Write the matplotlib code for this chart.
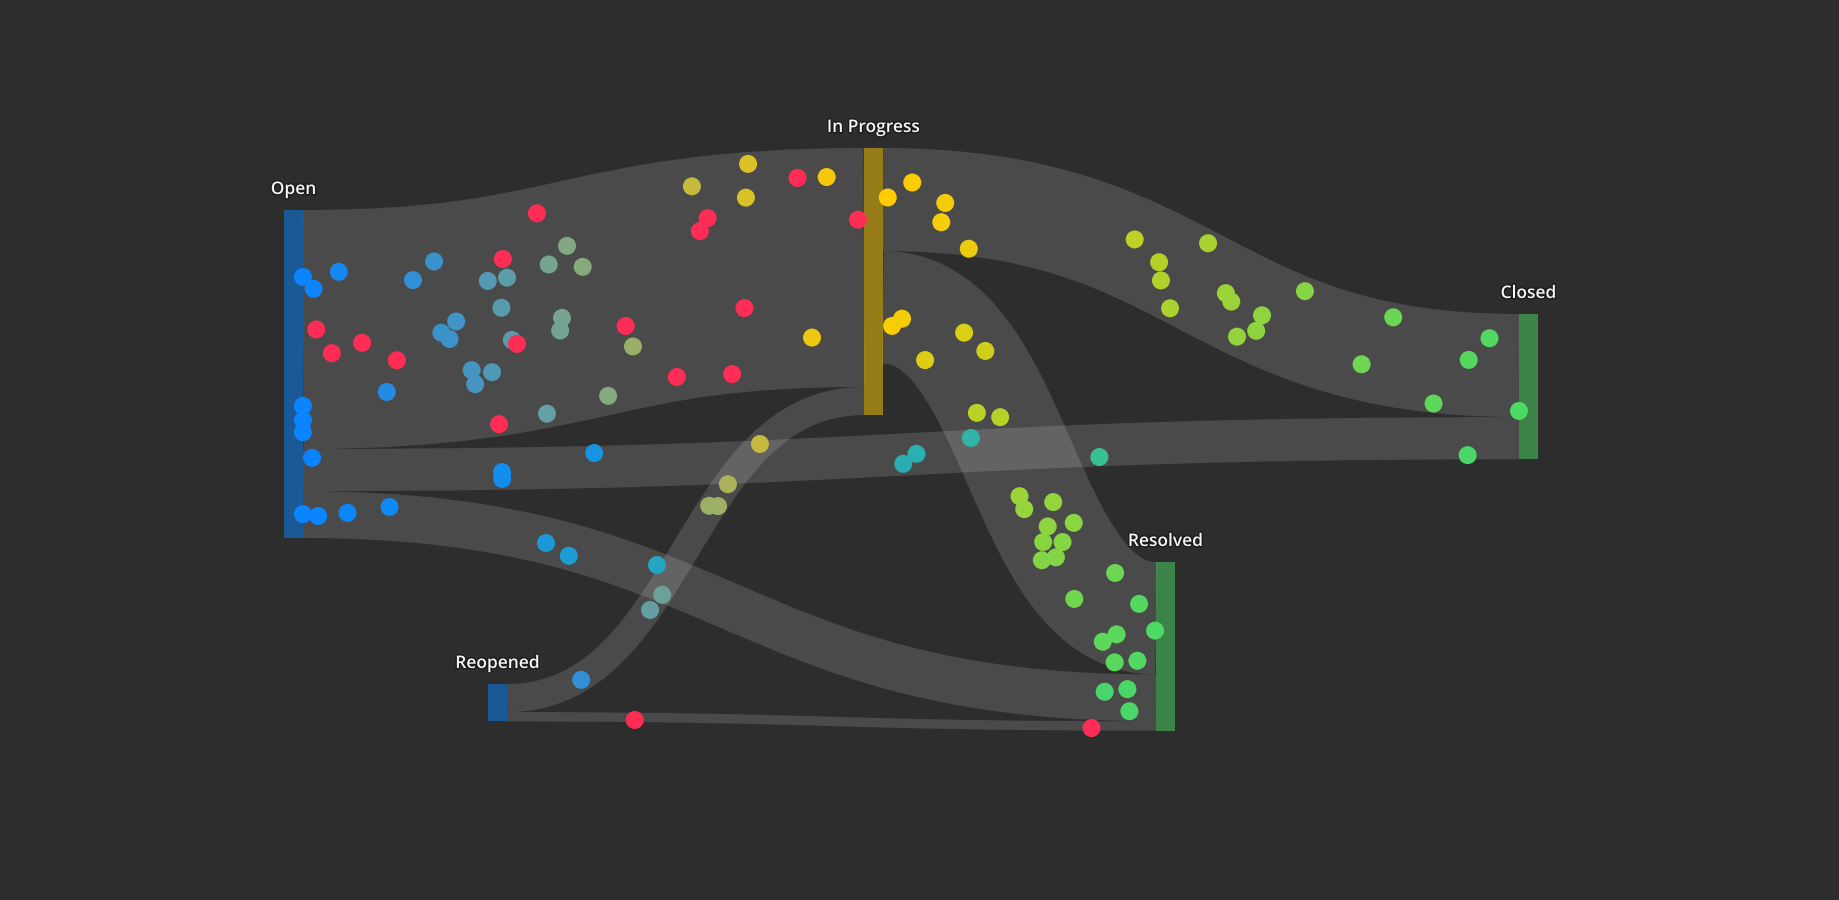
import matplotlib
matplotlib.use("Agg")
import matplotlib.pyplot as plt
from matplotlib.path import Path
from matplotlib.patches import PathPatch, Rectangle
import matplotlib.patheffects as pe
import numpy as np

# ---------------- data ----------------
node_names = ["Open", "In Progress", "Closed", "Resolved", "Reopened"]
node_colors = ["#0a84ff", "#ffcc00", "#4cd964", "#4cd964", "#0a84ff"]

link_source = [0, 0, 0, 1, 1, 4, 4]
link_target = [1, 2, 3, 2, 3, 1, 3]
link_value = [51, 9, 10, 22, 24, 6, 2]

HOT = "#ff2d55"

# particles: progress along the link (0..1) and lateral offset (fraction of band width)
# Open -> In Progress
open_ip_prog = [0.489, 0.438, 0.514, 0.197, 0.157, 0.046, 0.000, 0.013, 0.297, 0.339, 0.316,
                0.225, 0.197, 0.210, 0.326, 0.442, 0.432, 0.589, 0.242, 0.245, 0.278, 0.106,
                0.507, 0.369, 0.000, 0.000, 0.000, 0.761, 0.852, 0.845, 0.956, 0.931]
open_ip_off = [-0.23, -0.17, -0.13, -0.26, -0.19, -0.24, -0.22, -0.17, -0.15, -0.15, -0.03,
               0.00, 0.04, 0.07, 0.11, 0.06, 0.11, 0.24, 0.21, 0.27, 0.23, 0.27,
               0.42, 0.44, 0.32, 0.38, 0.43, -0.38, -0.45, -0.31, -0.38, 0.29]
open_ip_hot_prog = [0.436, 0.337, 0.016, 0.035, 0.075, 0.123, 0.335, 0.582, 0.277, 0.919,
                    0.781, 0.765, 0.993, 0.828, 0.676, 0.794]
open_ip_hot_off = [-0.39, -0.23, 0.00, 0.10, 0.06, 0.14, 0.13, 0.15, 0.45, -0.38,
                   -0.24, -0.19, -0.20, 0.15, 0.40, 0.42]
# Open -> Closed
open_closed_prog = [0.005, 0.123, 0.123, 0.192, 0.491, 0.506, 0.566, 0.696, 0.971]
open_closed_off = [-0.29, 0.08, 0.24, -0.33, 0.22, 0.00, -0.31, 0.28, 0.40]
# Open -> Resolved
open_resolved_prog = [0.000, 0.012, 0.036, 0.072, 0.238, 0.269, 0.383, 0.958, 0.977, 0.979]
open_resolved_off = [-0.01, 0.03, -0.05, -0.22, 0.05, 0.19, -0.22, -0.11, -0.18, 0.29]
# In Progress -> Closed
ip_closed_prog = [0.005, 0.031, 0.070, 0.067, 0.106, 0.357, 0.414, 0.432, 0.471, 0.478, 0.550,
                  0.566, 0.627, 0.629, 0.603, 0.681, 0.837, 0.806, 0.967, 0.944, 0.907, 1.000]
ip_closed_off = [-0.02, -0.17, 0.01, 0.20, 0.43, -0.09, 0.01, 0.16, 0.36, -0.37, -0.02,
                 0.03, 0.02, 0.18, 0.31, -0.36, -0.36, 0.15, -0.26, -0.04, 0.41, 0.44]
# In Progress -> Resolved
ip_resolved_prog = [0.029, 0.055, 0.192, 0.209, 0.268, 0.373, 0.402, 0.560, 0.587, 0.599, 0.639,
                    0.658, 0.663, 0.683, 0.694, 0.704, 0.800, 0.828, 0.949, 0.998, 0.900, 0.919,
                    0.933, 0.969]
ip_resolved_off = [0.16, 0.08, 0.29, -0.13, -0.18, 0.16, -0.01, 0.12, 0.13, -0.13, 0.01,
                   -0.21, 0.11, -0.04, 0.20, 0.08, 0.17, -0.25, -0.11, 0.11, 0.32, 0.21,
                   0.45, 0.39]
# Reopened -> In Progress
reopened_ip_prog = [0.159, 0.758, 0.652, 0.596, 0.605, 0.402, 0.364]
reopened_ip_off = [0.08, -0.04, 0.02, -0.10, 0.17, 0.14, 0.08]
# Reopened -> Resolved (hot)
reopened_resolved_hot_prog = [0.152, 0.929]
reopened_resolved_hot_off = [0.28, 0.23]

# ---------------- layout ----------------
BG = "#2d2d2d"
node_left = [284, 864, 1519, 1156, 488]
node_top = [210, 148, 314, 562, 684]
NODE_W = 19
PX_PER_UNIT = 328 / 70.0
PARTICLE_D = 18  # px

fig = plt.figure(figsize=(18.4, 9), dpi=100)
fig.patch.set_facecolor(BG)
ax = fig.add_axes([0, 0, 1, 1])
ax.set_facecolor(BG)
ax.set_xlim(0, 1840)
ax.set_ylim(900, 0)
ax.axis("off")

n_nodes = len(node_names)
n_links = len(link_value)
node_val = []
for n in range(n_nodes):
    vin = sum(v for s, t, v in zip(link_source, link_target, link_value) if t == n)
    vout = sum(v for s, t, v in zip(link_source, link_target, link_value) if s == n)
    node_val.append(max(vin, vout))

# stack link ends at nodes (ordered by the other node's vertical position)
src_y = [0.0] * n_links
tgt_y = [0.0] * n_links
for n in range(n_nodes):
    outs = sorted([i for i in range(n_links) if link_source[i] == n], key=lambda i: node_top[link_target[i]])
    y = node_top[n]
    for i in outs:
        w = link_value[i] * PX_PER_UNIT
        src_y[i] = y + w / 2
        y += w
    ins = sorted([i for i in range(n_links) if link_target[i] == n], key=lambda i: node_top[link_source[i]])
    y = node_top[n]
    for i in ins:
        w = link_value[i] * PX_PER_UNIT
        tgt_y[i] = y + w / 2
        y += w

geom = []
for i in range(n_links):
    x0 = node_left[link_source[i]] + NODE_W
    x1 = node_left[link_target[i]]
    y0, y1 = src_y[i], tgt_y[i]
    xm = (x0 + x1) / 2
    ctrl = np.array([[x0, y0], [xm, y0], [xm, y1], [x1, y1]])
    w = link_value[i] * PX_PER_UNIT
    geom.append((ctrl, w))
    path = Path(ctrl, [Path.MOVETO, Path.CURVE4, Path.CURVE4, Path.CURVE4])
    ax.add_patch(PathPatch(path, fill=False, edgecolor=(1, 1, 1, 0.14),
                           linewidth=w * 72 / 100, capstyle="butt", zorder=1))

# nodes
for n in range(n_nodes):
    h = node_val[n] * PX_PER_UNIT
    ax.add_patch(Rectangle((node_left[n], node_top[n]), NODE_W, h,
                           facecolor=node_colors[n], alpha=0.5, linewidth=0, zorder=2))
    ax.text(node_left[n] + NODE_W / 2, node_top[n] - 20, node_names[n],
            ha="center", va="center", color="#f6f6f6", fontsize=12.5, fontweight="semibold",
            family=["Open Sans", "DejaVu Sans"], zorder=6,
            path_effects=[pe.withStroke(linewidth=2.0, foreground="#1c1c1c")])


def bez(ctrl, t):
    t = np.asarray(t, dtype=float)[:, None]
    p0, p1, p2, p3 = ctrl
    pt = (1 - t) ** 3 * p0 + 3 * (1 - t) ** 2 * t * p1 + 3 * (1 - t) * t ** 2 * p2 + t ** 3 * p3
    d = 3 * (1 - t) ** 2 * (p1 - p0) + 6 * (1 - t) * t * (p2 - p1) + 3 * t ** 2 * (p3 - p2)
    return pt, d


def hex2rgb(h):
    h = h.lstrip("#")
    return np.array([int(h[j:j + 2], 16) / 255 for j in (0, 2, 4)])


def place(link, prog, off, hot=False):
    if len(prog) == 0:
        return
    ctrl, w = geom[link]
    pt, d = bez(ctrl, prog)
    nrm = np.stack([-d[:, 1], d[:, 0]], axis=1)
    nrm /= np.linalg.norm(nrm, axis=1)[:, None]
    nrm[nrm[:, 1] < 0] *= -1
    pos = pt + nrm * (np.asarray(off)[:, None] * w)
    if hot:
        cols = [HOT] * len(prog)
    else:
        c0 = hex2rgb(node_colors[link_source[link]])
        c1 = hex2rgb(node_colors[link_target[link]])
        tt = np.asarray(prog)[:, None]
        cols = np.clip(c0 + (c1 - c0) * tt, 0, 1)
    ax.scatter(pos[:, 0], pos[:, 1], s=(PARTICLE_D * 0.72) ** 2, c=cols,
               linewidths=0, zorder=5)


place(0, open_ip_prog, open_ip_off)
place(0, open_ip_hot_prog, open_ip_hot_off, hot=True)
place(1, open_closed_prog, open_closed_off)
place(2, open_resolved_prog, open_resolved_off)
place(3, ip_closed_prog, ip_closed_off)
place(4, ip_resolved_prog, ip_resolved_off)
place(5, reopened_ip_prog, reopened_ip_off)
place(6, reopened_resolved_hot_prog, reopened_resolved_hot_off, hot=True)

fig.savefig("out.png", dpi=100, facecolor=BG)
